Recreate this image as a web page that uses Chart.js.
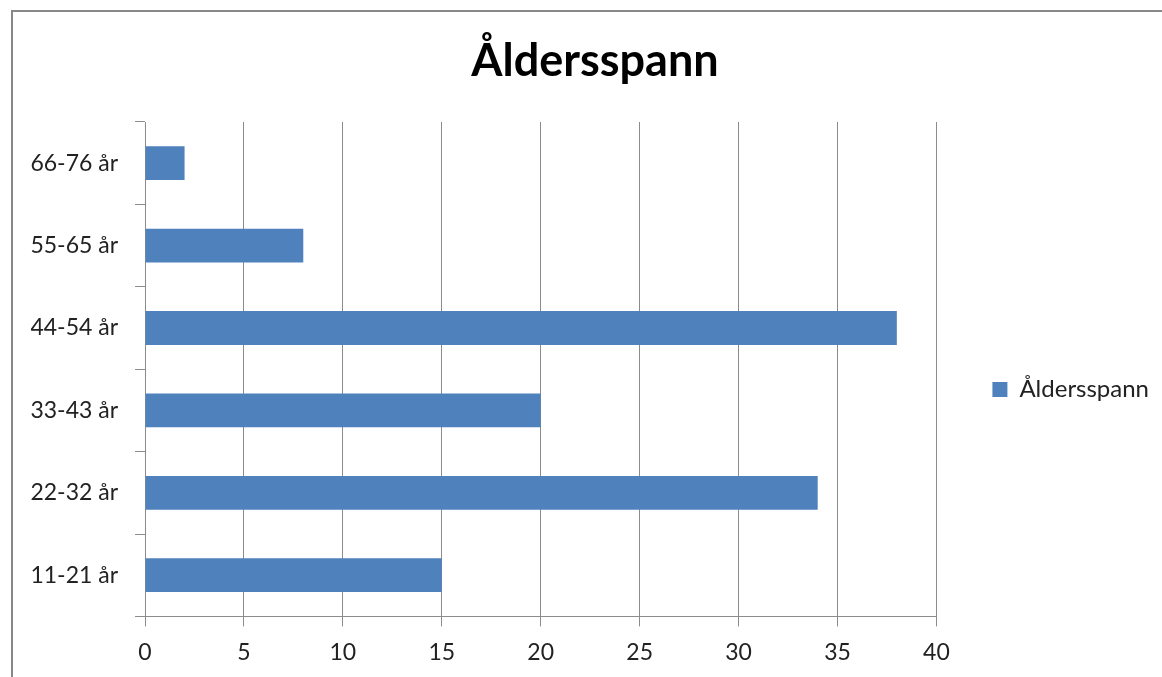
<!DOCTYPE html>
<html>
<head>
<meta charset="utf-8">
<script src="https://cdn.jsdelivr.net/npm/chart.js@4.4.0/dist/chart.umd.min.js"></script>
<style>
  body { margin: 0; background: #fff; overflow: hidden; }
  #frame {
    position: absolute; left: 11px; top: 10px;
    width: 1160px; height: 680px;
    border-left: 2px solid #888; border-top: 2px solid #888;
    background: #fff;
  }
  #frame canvas { display: block; }
</style>
</head>
<body>
<div id="frame"><canvas id="chart" width="1160" height="680"></canvas></div>
<script>
'use strict'

// chart data, top row first
var ageGroups = ['66-76 år', '55-65 år', '44-54 år', '33-43 år', '22-32 år', '11-21 år'];
var counts = [2, 8, 38, 20, 34, 15];
var seriesName = 'Åldersspann';
var xTicks = [0, 5, 10, 15, 20, 25, 30, 35, 40];

var fontFamily = 'Lato, "Open Sans", sans-serif';
var gridColor = '#8c8c8c';

var ctx = document.getElementById('chart').getContext('2d');

var ageChart = new Chart(ctx, {
  type: 'bar',
  data: {
    labels: ageGroups,
    datasets: [{
      label: seriesName,
      data: counts,
      backgroundColor: '#4F81BD',
      categoryPercentage: 1,
      barPercentage: 0.41
    }]
  },
  options: {
    indexAxis: 'y',
    responsive: false,
    animation: false,
    layout: {
      padding: { left: 18, right: 14, top: 0, bottom: 14 }
    },
    plugins: {
      title: {
        display: true,
        text: seriesName,
        color: '#000',
        font: { family: fontFamily, size: 45, weight: 'bold' },
        padding: { top: 22, bottom: 34 }
      },
      legend: {
        position: 'right',
        // empty legend title only pushes the entry down to where Excel put it
        title: {
          display: true,
          text: '',
          font: { family: fontFamily, size: 24 },
          padding: { top: 60, bottom: 0 }
        },
        labels: {
          color: '#222',
          font: { family: fontFamily, size: 24 },
          boxWidth: 15,
          boxHeight: 15,
          padding: 56
        }
      },
      tooltip: { enabled: false }
    },
    scales: {
      x: {
        min: 0,
        max: 40,
        afterBuildTicks: function(axis) {
          axis.ticks = xTicks.map(function(v) { return { value: v }; });
        },
        grid: {
          color: gridColor,
          lineWidth: 1,
          tickLength: 10
        },
        border: { color: gridColor, width: 1 },
        ticks: {
          color: '#222',
          font: { family: fontFamily, size: 23 },
          padding: 12
        }
      },
      y: {
        // fixed width so the labels hang into the left padding
        afterFit: function(axis) {
          axis.width = 114;
        },
        grid: {
          drawOnChartArea: false,
          color: gridColor,
          tickLength: 10,
          offset: true
        },
        border: { color: gridColor, width: 1 },
        ticks: {
          color: '#222',
          font: { family: fontFamily, size: 23 },
          padding: 17
        }
      }
    }
  }
});
</script>
</body>
</html>
